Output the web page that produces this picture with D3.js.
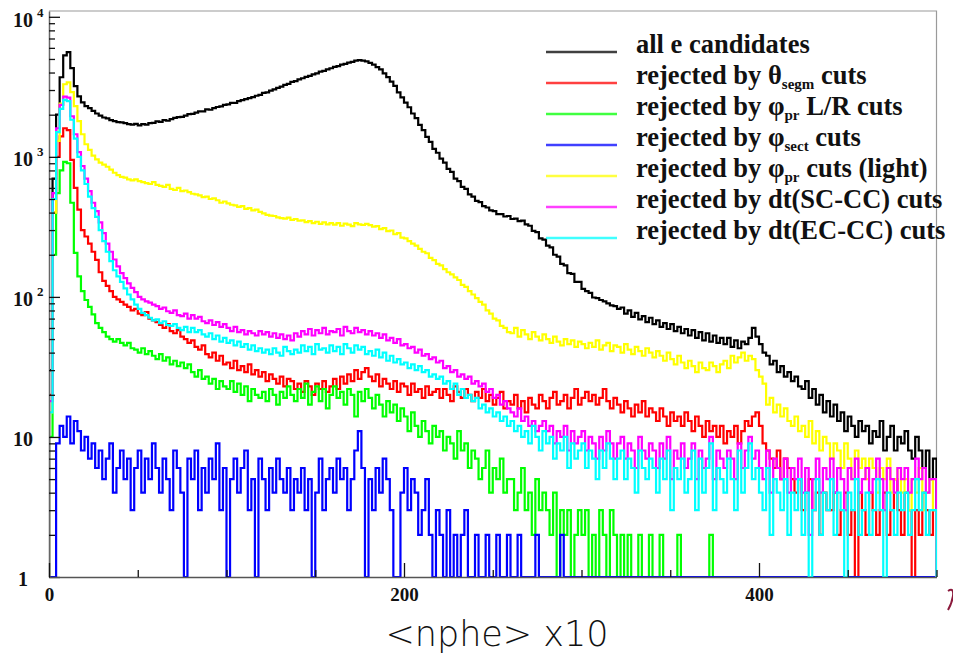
<!DOCTYPE html>
<html><head><meta charset="utf-8">
<script src="https://cdn.jsdelivr.net/npm/d3@7"></script>
<style>body{margin:0;background:#fff} svg{display:block}</style>
</head><body>
<svg id="chart" width="953" height="656"></svg>
<script>
// ---- data: 250 bins of width 2 over <nphe>x10 = 0..500 ----
const binWidth = 2;
const allCand = [
30,700,2000,3700,5300,5600,4300,3200,2700,2450,
2300,2230,2130,2040,1970,1910,1880,1830,1800,1770,
1760,1740,1710,1700,1720,1680,1710,1700,1740,1750,
1790,1780,1830,1810,1860,1900,1920,1930,1970,2020,
2030,2070,2110,2110,2180,2170,2230,2270,2290,2350,
2370,2430,2430,2500,2540,2580,2630,2670,2730,2770,
2860,2890,2970,3030,3110,3170,3260,3320,3430,3470,
3570,3640,3730,3790,3880,3940,4060,4110,4210,4290,
4390,4440,4560,4610,4710,4770,4860,4900,4870,4810,
4690,4560,4370,4210,3940,3710,3440,3210,2890,2660,
2440,2260,2040,1890,1690,1550,1390,1280,1140,1070,
970,910,820,780,700,670,610,590,540,520,
485,475,445,435,415,410,390,390,375,378,
360,362,348,350,330,322,296,290,262,256,
232,226,200,194,172,168,148,146,128,128,
114,110,107,99,98,95,93,90,87,86,
82,84,76,80,72,77,69,73,66,71,
64,68,61,65,59,64,57,61,55,59,
53,58,51,56,49,55,48,53,47,51,
46,51,44,49,43,48,46,51,60,52,
46,40,38,33,35,29,32,27,29,25,
27,23,22,25,19,22,17,20,15,18,
14,17,13,15,11,14,12,10,13,11,
12,9,11,10,13,8,10,12,8,10,
9,11,8,7,10,8,6,8,5,7];
const rejTheta = [
20,400,1000,1400,1600,1550,950,600,420,300,
270,240,210,184,150,130,120,110,100,96,
92,88,85,80,82,76,74,78,70,68,
66,63,60,64,57,55,58,52,50,47,
49,44,42,45,39,37,40,35,38,33,
34,31,35,30,32,29,33,28,30,27,
29,25,28,26,24,27,23,26,25,22,
24,21,25,23,20,24,22,25,21,23,
26,22,27,24,28,25,30,26,29,31,
27,25,28,23,26,24,22,25,21,24,
23,20,24,21,22,19,23,20,21,22,
19,22,20,18,23,21,19,22,20,18,
21,19,22,18,20,17,19,21,16,18,
17,20,16,18,15,19,17,16,20,18,
16,19,21,17,18,20,16,19,22,17,
19,21,18,20,17,19,22,18,16,19,
17,15,18,16,14,17,15,18,14,16,
15,13,16,14,12,15,13,14,12,15,
13,11,14,12,10,13,11,12,10,12,
9,11,10,12,9,11,13,12,14,15,
12,9,8,7,6,8,5,7,6,5,
4,5,3,4,5,3,4,2,4,3,
3,4,2,3,4,2,3,0,4,3,
2,4,3,2,3,4,2,3,5,3,
2,4,3,0,3,2,4,3,2,3];
const rejPhiLR = [
10,200,550,800,920,900,470,206,140,110,
95,85,75,65,60,56,52,50,48,50,
47,45,47,43,42,40,43,39,41,38,
36,39,35,37,33,35,32,34,31,33,
29,27,30,26,27,24,26,22,25,23,
22,25,21,24,20,23,18,22,20,19,
21,18,22,20,17,21,19,23,20,18,
22,19,24,17,21,23,18,22,16,20,
23,19,21,17,22,20,14,21,18,22,
19,16,20,17,14,18,15,17,13,16,
14,11,15,12,10,13,11,9,12,10,
11,8,10,9,7,11,8,9,6,8,
7,5,6,8,4,6,5,7,4,5,
5,3,4,6,3,4,2,5,3,4,
3,2,4,1,3,2,3,0,2,3,
2,3,1,2,0,3,2,1,3,2,
1,2,0,2,1,0,2,1,0,2,
0,1,2,0,1,0,0,2,1,0,
0,1,0,0,1,0,2,0,0,1,
0,0,1,0,0,0,1,0,0,0,
1,0,0,0,0,1,0,0,0,0,
0,0,0,1,0,0,0,0,0,0,
0,0,0,0,0,1,0,0,0,0,
0,0,0,0,0,0,0,0,1,0,
0,0,0,0,0,0,0,0,0,1];
const rejPhiSect = [
0,0,9,12,10,14,9,13,11,8,
10,7,9,6,8,5,7,9,4,6,
8,5,7,3,6,8,4,7,5,9,
6,4,7,5,3,8,6,4,1,7,
5,8,3,6,4,7,5,9,3,6,
1,5,7,4,6,8,3,5,0,7,
5,3,6,4,7,5,4,6,3,5,
4,6,3,5,0,4,7,3,5,6,
4,7,5,6,3,5,8,11,6,1,
5,3,6,4,7,5,3,0,1,4,
6,3,5,4,2,3,5,2,1,3,
2,0,3,1,2,0,2,3,1,0,
2,1,0,2,0,1,2,0,1,2,
0,1,2,0,1,0,1,2,0,1,
0,1,0,0,2,0,1,0,0,1,
0,0,1,0,0,1,0,0,0,1,
0,1,0,0,0,1,0,0,0,0,
0,0,0,1,0,0,0,0,1,0,
0,0,0,0,1,0,0,0,0,0,
0,0,0,0,0,0,0,1,0,0,
0,0,0,0,0,0,0,0,0,0,
0,0,0,0,0,0,1,0,0,0,
0,0,0,0,0,0,0,0,0,0,
0,0,0,0,0,0,0,0,0,0,
0,0,0,0,0,0,0,0,0,0];
const rejPhiLight = [
15,400,1300,2400,3300,3400,2900,2300,1800,1450,
1230,1120,1020,960,910,880,850,810,770,740,
720,710,690,680,690,670,660,650,640,660,
630,620,610,630,590,580,600,570,575,560,
545,540,530,515,520,500,505,490,470,480,
465,455,450,440,445,425,430,415,420,405,
395,385,380,378,370,365,362,368,355,360,
350,352,342,348,336,344,332,340,330,336,
328,336,322,334,328,320,336,330,326,332,
325,318,320,305,310,295,298,280,285,265,
262,250,240,232,220,210,205,190,183,172,
168,158,150,145,138,132,122,118,110,104,
98,92,88,80,76,70,68,62,60,56,
55,60,52,58,54,50,56,52,49,54,
50,47,52,48,45,50,46,49,44,48,
46,43,47,44,49,42,45,47,41,45,
44,40,46,42,39,44,41,38,43,40,
37,41,38,35,40,36,33,38,34,31,
35,32,29,34,31,30,34,32,29,33,
35,31,38,34,37,40,35,38,36,30,
27,24,17,19,15,17,14,16,13,12,
14,11,12,10,13,9,11,8,10,9,
7,9,8,6,9,7,5,8,6,7,
5,7,6,4,6,5,7,4,5,6,
4,5,3,5,4,6,3,4,5,3];
const rejDtSC = [
18,550,1600,2350,2690,2650,1950,1450,1080,860,
700,570,470,410,340,285,240,210,185,165,
148,136,125,116,108,100,96,93,91,88,
86,82,84,79,77,80,74,73,76,70,
74,70,72,67,65,68,63,66,61,64,
60,57,61,56,58,54,57,55,53,57,
54,56,52,55,51,54,50,53,49,55,
52,57,54,59,53,58,55,60,54,57,
56,59,53,61,57,55,60,56,58,54,
57,53,55,51,54,49,51,47,50,45,
46,43,44,40,42,38,39,36,37,34,
35,31,32,29,30,27,28,26,27,24,
25,23,24,21,22,19,20,17,18,16,
15,14,16,13,14,12,13,11,12,13,
11,12,9,11,10,12,8,11,9,10,
11,8,10,9,7,10,8,11,9,7,
9,10,7,9,8,6,10,8,7,9,
8,6,9,7,10,5,8,7,9,6,
7,9,5,8,6,7,10,5,8,7,
6,8,7,5,9,6,8,10,7,8,
6,5,8,4,7,6,5,7,4,6,
5,7,4,6,2,5,7,4,6,5,
7,4,6,5,3,6,5,7,4,5,
6,4,5,7,5,3,6,5,4,6,
5,6,4,5,7,5,6,4,5,5];
const rejDtEC = [
15,500,1500,2200,2550,2500,1840,1350,1000,800,
640,520,430,373,300,250,210,180,155,140,
128,115,104,96,88,82,77,74,71,68,
69,65,67,63,62,64,60,58,61,56,
60,56,58,54,52,55,50,53,48,51,
47,49,45,48,44,46,42,45,41,43,
40,42,39,43,40,38,44,41,39,42,
40,45,41,44,39,46,42,43,40,45,
41,44,39,46,43,40,45,42,44,39,
41,38,42,37,40,35,38,34,36,33,
34,31,33,30,32,29,30,27,28,26,
27,24,25,22,24,20,22,19,20,18,
19,16,17,15,16,14,15,13,14,12,
13,11,12,10,11,9,12,10,8,11,
9,10,7,9,8,10,6,9,7,8,
9,6,8,7,5,8,6,9,7,5,
7,8,5,7,6,4,8,6,5,7,
6,4,7,5,8,3,6,5,7,4,
5,8,3,7,4,6,9,3,6,5,
4,7,5,3,8,4,6,9,5,6,
4,3,6,2,5,4,3,5,2,4,
3,5,2,4,0,3,5,2,4,3,
5,2,4,3,1,4,3,5,2,3,
4,2,3,5,3,1,4,3,2,4,
3,4,2,3,5,3,4,2,3,3];

const seriesColors = ["#000000","#ff0000","#00ff00","#0000ff","#ffff00","#ff00ff","#00ffff"];
const seriesData = [allCand, rejTheta, rejPhiLR, rejPhiSect, rejPhiLight, rejDtSC, rejDtEC];
const legendParts = [
  [["all e candidates",0]],
  [["rejected by θ",0],["segm",1],[" cuts",0]],
  [["rejected by φ",0],["pr",1],[" L/R cuts",0]],
  [["rejected by φ",0],["sect",1],[" cuts",0]],
  [["rejected by φ",0],["pr",1],[" cuts (light)",0]],
  [["rejected by dt(SC-CC) cuts",0]],
  [["rejected by dt(EC-CC) cuts",0]]
];
const xTicksMajor = [0,200,400];
const xTicksMinor = [50,100,150,250,300,350,450,500];
const yTicksMajor = [1,10,100,1000,10000];
const yTickLabels = [["1",""],["10",""],["10","2"],["10","3"],["10","4"]];
const xTitle = "<nphe> x10";

// ---- drawing ----
const svg = d3.select("#chart");
const x = d3.scaleLinear().domain([0,500]).range([49,936.5]);
const y = d3.scaleLog().domain([1,11000]).range([577,11]);

svg.append("defs").append("clipPath").attr("id","plotclip")
  .append("rect").attr("x",49).attr("y",11).attr("width",888).attr("height",566);

// frame (top and right)
svg.append("path").attr("d",`M${x(0)},${y(11000)}H${x(500)}V${y(1)}`)
  .attr("fill","none").attr("stroke","#9a9a9a").attr("stroke-width",1.2);

const plot = svg.append("g").attr("clip-path","url(#plotclip)");
const line = d3.line();
function stepPoints(vals){
  const pts = [[x(0), y(1)]];
  vals.forEach((v,i)=>{
    const yy = v >= 1 ? y(v) : y(1);
    pts.push([x(i*binWidth), yy],[x((i+1)*binWidth), yy]);
  });
  pts.push([x(vals.length*binWidth), y(1)]);
  return pts;
}
seriesData.forEach((vals,k)=>{
  plot.append("path").attr("d", line(stepPoints(vals)))
    .attr("fill","none").attr("stroke",seriesColors[k])
    .attr("stroke-width",2.2).attr("stroke-linejoin","miter");
});

// y axis
const minorY = [];
for (let d=1; d<=1000; d*=10) for (let m=2; m<=9; m++) minorY.push(d*m);
const gy = svg.append("g").attr("transform",`translate(${x(0)},0)`);
gy.call(d3.axisLeft(y).tickValues(yTicksMajor).tickSize(-11).tickSizeOuter(0).tickFormat(""));
gy.call(g=>g.select(".domain").attr("stroke","#666").attr("stroke-width",1.5));
const gy2 = svg.append("g").attr("transform",`translate(${x(0)},0)`);
gy2.call(d3.axisLeft(y).tickValues(minorY).tickSize(-6).tickSizeOuter(0).tickFormat(""));
gy2.select(".domain").remove();
svg.selectAll(".tick line").attr("stroke","#111").attr("stroke-width",1.3);

const ylab = svg.append("g").attr("font-family","'Liberation Serif','Times New Roman',serif")
  .attr("font-weight","bold").attr("fill","#111");
yTicksMajor.forEach((v,i)=>{
  const [base,sup] = yTickLabels[i];
  const yy = y(v) + (v===10000 ? 3 : 2);
  ylab.append("text").attr("x", base==="1" ? 28 : 33).attr("y",yy).attr("dy","0.35em")
    .attr("text-anchor","end").attr("font-size",20).text(base);
  if (sup) ylab.append("text").attr("x",37).attr("y",yy-7).attr("dy","0.35em")
    .attr("font-size",13).text(sup);
});

// x axis
const gx = svg.append("g").attr("transform",`translate(0,${y(1)})`);
gx.call(d3.axisBottom(x).tickValues(xTicksMajor).tickSize(-14).tickSizeOuter(0).tickPadding(11).tickFormat(d3.format("d")));
gx.select(".domain").attr("stroke","#555").attr("stroke-width",1.5);
gx.selectAll(".tick line").attr("stroke","#111").attr("stroke-width",1.3);
gx.selectAll("text").attr("font-family","'Liberation Serif','Times New Roman',serif")
  .attr("font-weight","bold").attr("font-size",19).attr("fill","#111");
const gx2 = svg.append("g").attr("transform",`translate(0,${y(1)})`);
gx2.call(d3.axisBottom(x).tickValues(xTicksMinor).tickSize(-7).tickSizeOuter(0).tickFormat(""));
gx2.select(".domain").remove();
gx2.selectAll(".tick line").attr("stroke","#111").attr("stroke-width",1.3);

// x title
svg.append("text").attr("x",497).attr("y",646).attr("text-anchor","middle")
  .attr("font-family","'DejaVu Sans','Noto Sans',sans-serif").attr("font-weight",200)
  .attr("font-size",35).attr("fill","#111").text(xTitle);

// legend
const leg = svg.append("g");
legendParts.forEach((parts,k)=>{
  const ly = 52 + 31*k;
  leg.append("line").attr("x1",546).attr("x2",617).attr("y1",ly).attr("y2",ly)
    .attr("stroke",seriesColors[k]).attr("stroke-width",2.5).attr("stroke-opacity",0.75);
  const t = leg.append("text").attr("x",636).attr("y",ly+1)
    .attr("font-family","'Liberation Serif','Times New Roman',serif")
    .attr("font-weight","bold").attr("font-size",26.5).attr("fill","#111");
  let shifted = false;
  parts.forEach(([s,sub])=>{
    const ts = t.append("tspan").text(s);
    if (sub) { ts.attr("font-size",15).attr("dy",5); shifted = true; }
    else if (shifted) { ts.attr("dy",-5); shifted = false; }
  });
});

// stray mark at the right edge of the reference picture
svg.append("path").attr("d","M948,591 q6,-4 5,5 q-1,7 -5,14")
  .attr("fill","none").attr("stroke","#8b1a3c").attr("stroke-width",2);
</script>
</body></html>
